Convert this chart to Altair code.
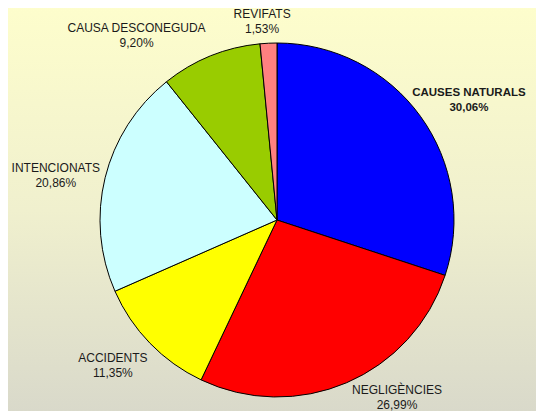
import altair as alt
import pandas as pd

categories = ["CAUSES NATURALS", "NEGLIGÈNCIES", "ACCIDENTS", "INTENCIONATS",
              "CAUSA DESCONEGUDA", "REVIFATS"]
values = [30.06, 26.99, 11.35, 20.86, 9.20, 1.53]
pct_labels = ["30,06%", "26,99%", "11,35%", "20,86%", "9,20%", "1,53%"]
colors = ["#0000FF", "#FF0000", "#FFFF00", "#CCFFFF", "#99CC00", "#FF8080"]

# label layout (Excel-style moved labels): angle nudge in degrees, radius in px
label_nudge = [3.6, -11.1, 3, -2, -15, -1.5]
label_radius = [227, 213, 218, 226, 233, 201]
bold = [True, False, False, False, False, False]

W, H = 528, 403
CX, CY = 269, 212
R = 177

df = pd.DataFrame({
    "cat": categories, "val": values, "pct": pct_labels,
    "order": list(range(len(categories))),
})
total = sum(values)
cum = 0
mids = []
for v in values:
    mids.append((cum + v / 2) / total * 360)
    cum += v
df["label_deg"] = [m + n for m, n in zip(mids, label_nudge)]
df["label_r"] = label_radius
df["txt"] = [c + "\n" + p for c, p in zip(categories, pct_labels)]
df["bold"] = bold

bg = alt.Chart(pd.DataFrame({"a": [0]})).mark_rect(
    fill=alt.Gradient(
        gradient="linear", x1=0, y1=0, x2=0, y2=1,
        stops=[alt.GradientStop(offset=0, color="#FEFECC"),
               alt.GradientStop(offset=0.5, color="#F0F0CE"),
               alt.GradientStop(offset=1, color="#D8D8CA")],
    )
).encode(x=alt.value(-10), x2=alt.value(W + 10), y=alt.value(-10), y2=alt.value(H + 10))

pie = alt.Chart(df).mark_arc(stroke="black", strokeWidth=1, radius=R).encode(
    theta=alt.Theta("val:Q", stack=True),
    order=alt.Order("order:O"),
    color=alt.Color("cat:N", scale=alt.Scale(domain=categories, range=colors), legend=None),
    x=alt.value(CX), y=alt.value(CY),
)

def label_layer(is_bold):
    return alt.Chart(df).transform_filter(
        alt.datum.bold == is_bold
    ).mark_text(
        font="Liberation Sans", fontSize=11.5 if is_bold else 12,
        fontWeight="bold" if is_bold else "normal",
        color="#1a1a1a", lineBreak="\n", lineHeight=15, baseline="middle", dy=-6,
    ).encode(
        theta=alt.Theta("label_deg:Q", stack=None, scale=alt.Scale(domain=[0, 360], range=[0, 6.283185307])),
        radius=alt.Radius("label_r:Q", scale=None),
        text="txt:N",
        x=alt.value(CX), y=alt.value(CY),
    )

labels = alt.layer(label_layer(True), label_layer(False))

chart = alt.layer(bg, pie, labels).resolve_scale(
    theta="independent", radius="independent"
).properties(
    width=W, height=H, padding=0, autosize="none"
).configure_view(stroke=None)

chart.save("out.html", embed_options={"renderer": "svg", "actions": False})
